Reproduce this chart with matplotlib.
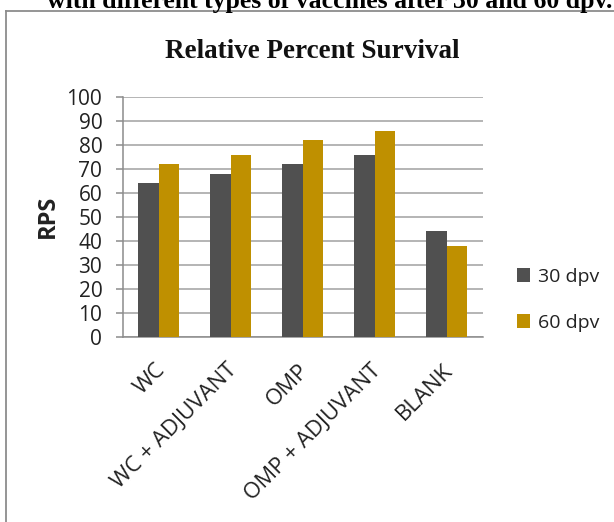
import matplotlib
matplotlib.use("Agg")
import matplotlib.pyplot as plt
from matplotlib.lines import Line2D
from matplotlib.patches import Patch
import matplotlib.transforms as mtransforms
import numpy as np

categories = ["WC", "WC + ADJUVANT", "OMP", "OMP + ADJUVANT", "BLANK"]
rps_30dpv = [64, 68, 72, 76, 44]
rps_60dpv = [72, 76, 82, 86, 38]
series_labels = ["30 dpv", "60 dpv"]
y_ticks = list(range(0, 101, 10))

W, H = 614, 522
fig = plt.figure(figsize=(W / 100, H / 100), dpi=100)

dark = "#505050"
gold = "#BF9000"
axis_gray = "#8C8C8C"
text_col = "#222222"
sans = "Open Sans"

ax = fig.add_axes([122.7 / W, 1 - 336.7 / H, 360 / W, 239.4 / H])

x = np.arange(len(categories))
bw = 0.285
ax.bar(x - bw / 2, rps_30dpv, width=bw, color=dark, zorder=3)
ax.bar(x + bw / 2, rps_60dpv, width=bw, color=gold, zorder=3)

ax.set_xlim(-0.5, len(categories) - 0.5)
ax.set_ylim(0, 100)
ax.set_yticks(y_ticks)
ax.yaxis.grid(True, color="#A0A0A0", linewidth=1.1, zorder=0)
ax.set_axisbelow(True)

for s in ["top", "right"]:
    ax.spines[s].set_visible(False)
for s in ["left", "bottom"]:
    ax.spines[s].set_color(axis_gray)
    ax.spines[s].set_linewidth(1.1)

ax.tick_params(axis="y", length=5, width=1.1, color=axis_gray, pad=9.7,
               labelsize=15, labelcolor=text_col)
ax.tick_params(axis="x", length=0, pad=6, labelsize=16, labelcolor=text_col)
for lbl in ax.get_yticklabels():
    lbl.set_fontfamily(sans)

ax.set_xticks(x)
ax.set_xticklabels(categories, rotation=45, ha="right", va="center",
                   rotation_mode="anchor", family=sans)
offset = mtransforms.ScaledTranslation(3 / 100, -22 / 100, fig.dpi_scale_trans)
for lbl in ax.get_xticklabels():
    lbl.set_transform(lbl.get_transform() + offset)

fig.text(48 / W, 1 - 216 / H, "RPS", rotation=90, ha="center", va="center",
         fontsize=17, fontweight="bold", family=sans, color=text_col)

fig.text(312.3 / W, 1 - 58.3 / H, "Relative Percent Survival", ha="center",
         va="baseline", fontsize=19.5, fontweight="bold",
         family="Liberation Serif", color="#111111")

fig.text(612 / W, 1 - 8 / H,
         "with different types of vaccines after 30 and 60 dpv.",
         ha="right", va="baseline", fontsize=18.5, fontweight="bold",
         family="Liberation Serif", color="#000000")

handles = [Patch(facecolor=dark), Patch(facecolor=gold)]
fig.legend(handles, series_labels, loc="center left",
           bbox_to_anchor=(499 / W, 1 - 300 / H), frameon=False,
           prop={"family": sans, "size": 14}, handlelength=0.7,
           handleheight=0.7, handletextpad=0.4, labelspacing=1.45,
           labelcolor=text_col)

# chart frame (left and top edges)
fig.add_artist(Line2D([6 / W, 6 / W], [0, 1 - 11 / H], color=axis_gray,
                      linewidth=1.3, transform=fig.transFigure))
fig.add_artist(Line2D([6 / W, 1], [1 - 11 / H, 1 - 11 / H], color=axis_gray,
                      linewidth=1.3, transform=fig.transFigure))

fig.savefig("out.png", dpi=100)
